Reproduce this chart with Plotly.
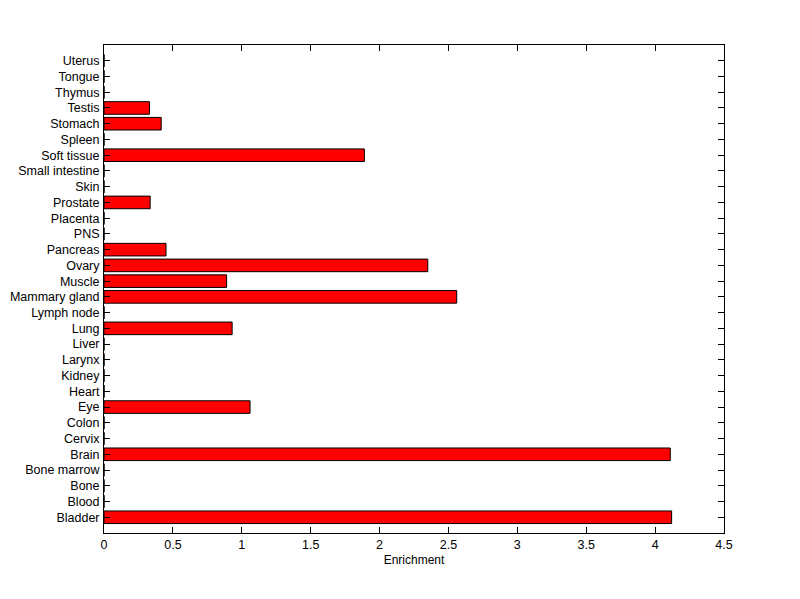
import plotly.graph_objs as go

tissues = ['Bladder', 'Blood', 'Bone', 'Bone marrow', 'Brain', 'Cervix', 'Colon', 'Eye',
           'Heart', 'Kidney', 'Larynx', 'Liver', 'Lung', 'Lymph node', 'Mammary gland',
           'Muscle', 'Ovary', 'Pancreas', 'PNS', 'Placenta', 'Prostate', 'Skin',
           'Small intestine', 'Soft tissue', 'Spleen', 'Stomach', 'Testis', 'Thymus',
           'Tongue', 'Uterus']
enrichment = [4.12, 0, 0, 0, 4.11, 0, 0, 1.06,
              0, 0, 0, 0, 0.93, 0, 2.56,
              0.89, 2.35, 0.45, 0, 0, 0.335, 0,
              0, 1.89, 0, 0.415, 0.33, 0,
              0, 0]
x_ticks = [0, 0.5, 1, 1.5, 2, 2.5, 3, 3.5, 4, 4.5]
x_ticklabels = ['0', '0.5', '1', '1.5', '2', '2.5', '3', '3.5', '4', '4.5']

positions = list(range(1, len(tissues) + 1))

trace = go.Bar(
    x=enrichment,
    y=positions,
    orientation='h',
    width=0.8,
    marker=dict(color='#ff0000', line=dict(color='black', width=1)),
)

font = dict(family='Liberation Sans, Arial, sans-serif', size=12.5, color='black')

# page body has an 8px margin, so the figure is a bit smaller than the window
layout = go.Layout(
    width=792, height=591,
    margin=dict(l=96, r=76, t=37, b=66),
    paper_bgcolor='white', plot_bgcolor='white',
    font=font,
    showlegend=False,
    xaxis=dict(
        range=[0, 4.5], tickvals=x_ticks, ticktext=x_ticklabels,
        ticks='inside', ticklen=6, tickcolor='black', tickwidth=1,
        showline=True, linecolor='black', linewidth=1, mirror='allticks',
        showgrid=False, zeroline=False, automargin=False,
        title=dict(text='Enrichment', font=dict(size=12), standoff=4),
    ),
    yaxis=dict(
        range=[0, len(tissues) + 1], tickvals=positions, ticktext=tissues,
        ticks='inside', ticklen=6, tickcolor='black', tickwidth=1,
        showline=True, linecolor='black', linewidth=1, mirror='allticks',
        showgrid=False, zeroline=False, automargin=False, ticklabelstandoff=1,
    ),
)

fig = go.Figure(data=[trace], layout=layout)
fig.write_html("out.html")
